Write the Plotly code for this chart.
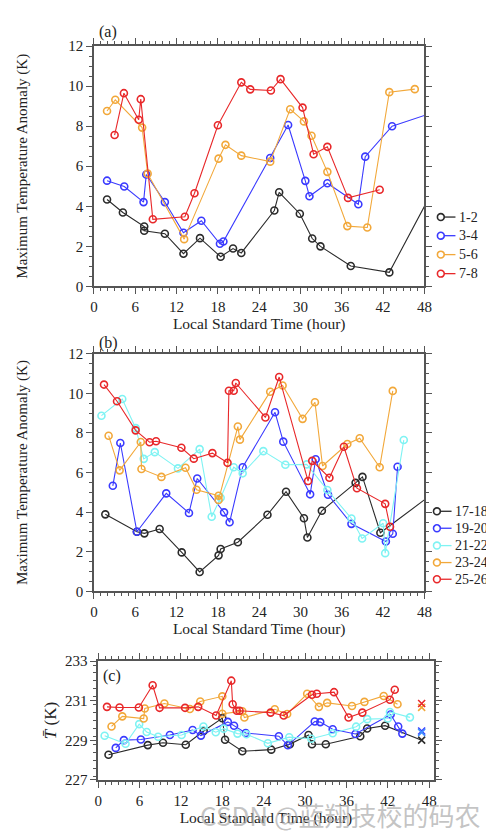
import plotly.graph_objects as go

# ---------------- Panel (a) data ----------------
a12_x = [1.9, 4.2, 7.3, 7.3, 10.3, 13.0, 15.4, 18.4, 20.2, 21.4, 26.2, 26.9, 29.9, 31.7, 32.9, 37.3, 42.9, 49.5]
a12_y = [4.34, 3.69, 2.99, 2.78, 2.63, 1.63, 2.41, 1.48, 1.89, 1.67, 3.79, 4.70, 3.63, 2.39, 2.00, 1.02, 0.70, 4.97]
a34_x = [1.9, 4.4, 7.2, 7.6, 10.3, 13.0, 15.6, 18.3, 18.8, 25.6, 28.2, 30.7, 31.3, 33.9, 38.4, 39.4, 43.3, 49.5]
a34_y = [5.28, 4.99, 4.21, 5.59, 4.21, 2.68, 3.28, 2.13, 2.24, 6.41, 8.06, 5.27, 4.50, 5.15, 4.10, 6.48, 8.00, 8.71]
a56_x = [1.9, 3.1, 7.0, 7.8, 13.1, 18.1, 19.1, 21.4, 25.6, 28.5, 30.5, 31.6, 33.9, 36.8, 39.7, 42.9, 46.6]
a56_y = [8.76, 9.32, 7.93, 5.63, 2.36, 6.38, 7.07, 6.53, 6.23, 8.85, 8.24, 7.52, 5.72, 3.01, 2.94, 9.70, 9.85]
a78_x = [3.0, 4.35, 6.5, 6.8, 8.55, 13.2, 14.6, 18.0, 21.4, 22.7, 25.7, 27.1, 30.3, 31.9, 33.9, 36.9, 41.5]
a78_y = [7.56, 9.65, 8.32, 9.35, 3.35, 3.48, 4.65, 8.05, 10.19, 9.84, 9.78, 10.35, 8.93, 6.60, 6.97, 4.42, 4.83]

# ---------------- Panel (b) data ----------------
b1718_x = [1.65, 6.24, 7.32, 9.54, 12.75, 15.35, 18.1, 18.4, 20.9, 25.2, 27.9, 30.5, 31.0, 33.1, 38.0, 39.0, 41.6, 49.5]
b1718_y = [3.89, 3.01, 2.93, 3.15, 1.97, 0.98, 1.82, 2.14, 2.48, 3.87, 5.03, 3.69, 2.72, 4.07, 5.48, 5.78, 2.96, 5.01]
b1920_x = [2.74, 3.83, 6.24, 10.5, 13.8, 15.0, 18.9, 19.7, 21.6, 26.3, 27.5, 31.4, 32.2, 34.0, 37.4, 42.4, 43.4, 44.1]
b1920_y = [5.33, 7.49, 3.01, 4.95, 3.96, 5.70, 3.99, 3.49, 6.27, 9.04, 7.56, 4.90, 6.67, 4.88, 3.41, 2.52, 2.91, 6.29]
b2122_x = [1.09, 4.11, 6.07, 7.23, 8.83, 12.2, 15.35, 17.1, 18.4, 20.3, 21.6, 24.6, 27.8, 30.9, 33.9, 37.4, 38.95, 42.0, 42.3, 45.0]
b2122_y = [8.87, 9.71, 8.24, 6.69, 7.03, 6.21, 7.18, 3.77, 4.73, 6.27, 5.96, 7.08, 6.39, 6.41, 5.12, 3.68, 2.67, 3.44, 1.93, 7.64]
b2324_x = [2.13, 3.73, 6.8, 6.9, 9.8, 13.3, 14.9, 18.1, 18.1, 20.9, 21.2, 25.6, 27.4, 30.3, 32.1, 33.2, 36.8, 38.6, 41.5, 43.4]
b2324_y = [7.86, 6.11, 7.54, 6.18, 5.78, 6.24, 5.13, 4.83, 4.62, 8.32, 7.66, 10.08, 10.39, 8.71, 9.55, 6.33, 7.44, 7.73, 6.27, 10.12]
b2526_x = [1.46, 3.35, 6.05, 8.08, 9.02, 12.7, 14.5, 17.2, 19.4, 19.6, 20.3, 20.6, 24.9, 26.9, 31.1, 31.7, 34.2, 36.3, 38.2, 42.3, 43.0]
b2526_y = [10.44, 9.60, 8.13, 7.53, 7.58, 7.25, 6.70, 6.98, 6.49, 10.13, 10.13, 10.52, 8.78, 10.82, 5.57, 6.59, 5.74, 7.30, 5.21, 4.42, 3.26]

# ---------------- Panel (c) data ----------------
c1718_x = [1.5, 7.2, 9.4, 12.7, 15.3, 18.0, 18.4, 20.9, 25.1, 27.8, 30.5, 31.0, 33.0, 38.0, 39.0, 41.6, 46.9]
c1718_y = [228.27, 228.76, 228.88, 228.78, 229.47, 230.12, 229.03, 228.45, 228.53, 228.81, 229.27, 228.80, 228.80, 229.21, 229.60, 229.74, 229.01]
c1920_x = [2.55, 3.73, 6.19, 10.4, 13.7, 14.9, 18.8, 19.7, 21.4, 26.2, 27.5, 31.4, 32.2, 34.0, 37.3, 42.4, 43.5, 44.1]
c1920_y = [228.62, 229.01, 229.04, 229.27, 229.52, 229.24, 229.93, 229.74, 229.37, 229.21, 228.75, 229.95, 229.92, 229.56, 229.32, 230.30, 229.70, 229.34]
c2122_x = [0.94, 3.97, 5.95, 7.04, 8.69, 12.1, 15.26, 17.05, 18.2, 20.2, 21.5, 24.6, 27.7, 30.9, 34.0, 37.4, 39.0, 42.0, 42.3, 45.2]
c2122_y = [229.23, 228.83, 229.82, 229.42, 229.18, 229.27, 229.70, 229.41, 229.59, 229.34, 229.31, 228.85, 229.16, 229.08, 229.36, 229.69, 230.07, 230.10, 230.43, 230.16]
c2324_x = [1.94, 3.5, 6.6, 6.76, 9.6, 13.3, 14.8, 18.0, 18.0, 20.9, 21.2, 25.6, 27.4, 30.3, 32.0, 33.2, 36.8, 38.6, 41.4, 43.4]
c2324_y = [229.70, 230.21, 230.10, 230.61, 230.86, 230.58, 230.96, 231.22, 230.34, 230.47, 230.15, 230.57, 230.33, 231.35, 230.69, 230.89, 230.73, 230.94, 231.24, 230.82]
c2526_x = [1.28, 3.1, 5.9, 7.9, 8.9, 12.6, 14.5, 17.1, 19.3, 19.5, 20.1, 20.5, 25.0, 26.9, 31.0, 31.7, 34.2, 36.3, 38.3, 42.3, 43.0]
c2526_y = [230.69, 230.66, 230.66, 231.78, 230.64, 230.64, 230.69, 230.25, 232.01, 230.82, 230.49, 230.49, 230.40, 230.25, 231.30, 231.35, 231.43, 230.15, 230.40, 231.05, 231.55]
c_mean_x = [46.9, 46.9, 46.9, 46.9]
c_mean_y = [229.47, 229.40, 230.66, 230.86]

labels_a = ["1-2", "3-4", "5-6", "7-8"]
labels_b = ["17-18", "19-20", "21-22", "23-24", "25-26"]
xticks = [0, 6, 12, 18, 24, 30, 36, 42, 48]

BLACK = "#2b2b2b"
BLUE = "#3a3aff"
CYAN = "#7ff3f3"
ORANGE = "#f2a83a"
RED = "#e8282a"
colors_a = [BLACK, BLUE, ORANGE, RED]
colors_b = [BLACK, BLUE, CYAN, ORANGE, RED]
FONT = "Liberation Serif"
AXC = "#555555"
TXT = "#222222"

fig = go.Figure()


def add(x, y, color, name, xa, ya, symbols=None):
    fig.add_trace(go.Scatter(
        x=x, y=y, mode="lines+markers", name=name,
        line=dict(color=color, width=1.1),
        marker=dict(symbol=symbols if symbols else "circle-open", size=7,
                    color=color, line=dict(width=1.6, color=color)),
        xaxis=xa, yaxis=ya, showlegend=False))


for xs, ys, c, n in zip([a12_x, a34_x, a56_x, a78_x], [a12_y, a34_y, a56_y, a78_y], colors_a, labels_a):
    add(xs, ys, c, n, "x", "y")
for xs, ys, c, n in zip([b1718_x, b1920_x, b2122_x, b2324_x, b2526_x],
                        [b1718_y, b1920_y, b2122_y, b2324_y, b2526_y], colors_b, labels_b):
    add(xs, ys, c, n, "x2", "y2")

sym_black = ["circle-open"] * (len(c1718_x) - 1) + ["x-thin-open"]
add(c1718_x, c1718_y, BLACK, labels_b[0], "x3", "y3", symbols=sym_black)
add(c1920_x, c1920_y, BLUE, labels_b[1], "x3", "y3")
add(c2122_x, c2122_y, CYAN, labels_b[2], "x3", "y3")
add(c2324_x, c2324_y, ORANGE, labels_b[3], "x3", "y3")
add(c2526_x, c2526_y, RED, labels_b[4], "x3", "y3")
mean_cols = [BLUE, "#3f8fff", ORANGE, RED]
fig.add_trace(go.Scatter(
    x=c_mean_x, y=c_mean_y, mode="markers", showlegend=False,
    marker=dict(symbol="x-thin-open", size=7, color=mean_cols,
                line=dict(width=1.6, color=mean_cols)),
    xaxis="x3", yaxis="y3"))

W, H = 494, 831


def px(v):
    return v / W


def py(v):
    return 1 - v / H


def xaxis(domain, anchor, rng, title):
    return dict(domain=domain, anchor=anchor, range=rng,
                tickvals=xticks, ticks="outside", ticklen=6, tickwidth=1.2,
                tickcolor=AXC, showline=True, linecolor=AXC, linewidth=1.5,
                mirror="allticks", showgrid=False, zeroline=False,
                tickfont=dict(family=FONT, size=15, color=TXT),
                minor=dict(dtick=1, tick0=0, ticks="outside", ticklen=3, tickcolor=AXC, showgrid=False),
                title=dict(text=title, font=dict(family=FONT, size=15.5, color=TXT), standoff=2))


def yaxis(domain, anchor, rng, dtick, minor, title, standoff, tsize=15):
    return dict(domain=domain, anchor=anchor, range=rng, dtick=dtick, tick0=rng[0],
                ticks="outside", ticklen=6, tickwidth=1.2,
                tickcolor=AXC, showline=True, linecolor=AXC, linewidth=1.5,
                mirror="allticks", showgrid=False, zeroline=False,
                tickfont=dict(family=FONT, size=15, color=TXT),
                minor=dict(dtick=minor, ticks="outside", ticklen=3, tickcolor=AXC, showgrid=False),
                title=dict(text=title, font=dict(family=FONT, size=tsize, color=TXT), standoff=standoff))


# manual legends (symbol: circle with a short line to its right, then label)
shapes = []
annotations = []


def legend_block(labels, colors, cx, ys, tx):
    for lab, col, yy in zip(labels, colors, ys):
        shapes.append(dict(type="line", xref="paper", yref="paper",
                           x0=px(cx + 3.5), x1=px(cx + 15), y0=py(yy), y1=py(yy),
                           line=dict(color=col, width=1.3)))
        shapes.append(dict(type="circle", xref="paper", yref="paper",
                           x0=px(cx - 3.5), x1=px(cx + 3.5), y0=py(yy + 3.5), y1=py(yy - 3.5),
                           line=dict(color=col, width=1.6)))
        annotations.append(dict(text=lab, x=px(tx), y=py(yy), xref="paper", yref="paper",
                                showarrow=False, xanchor="left", yanchor="middle",
                                font=dict(family=FONT, size=14, color=TXT)))


legend_block(labels_a, colors_a, 439.5, [205, 224, 243.3, 262.7], 456)
legend_block(labels_b, colors_b, 435.5, [505, 522.3, 540, 557.3, 574.3], 451.5)

annotations += [
    dict(text="(a)", x=px(87), y=py(16), xref="paper", yref="paper", showarrow=False,
         xanchor="left", yanchor="middle", font=dict(family=FONT, size=16, color=TXT)),
    dict(text="(b)", x=px(87), y=py(333), xref="paper", yref="paper", showarrow=False,
         xanchor="left", yanchor="middle", font=dict(family=FONT, size=16, color=TXT)),
    dict(text="(c)", x=px(91), y=py(673), xref="paper", yref="paper", showarrow=False,
         xanchor="left", yanchor="middle", font=dict(family=FONT, size=16, color=TXT)),
    dict(text="CSDN @蓝翔技校的码农", x=px(191), y=py(814), xref="paper", yref="paper",
         showarrow=False, xanchor="left", yanchor="middle",
         font=dict(family="Noto Sans CJK SC", size=26, color="rgba(170,170,170,0.7)")),
]

fig.update_layout(
    width=W, height=H, margin=dict(l=0, r=0, t=0, b=0),
    paper_bgcolor="white", plot_bgcolor="white",
    font=dict(family=FONT, color=TXT),
    showlegend=False,
    xaxis=xaxis([px(84), px(422.7)], "y", [0, 48], "Local Standard Time (hour)"),
    yaxis=yaxis([py(275.7), py(30.7)], "x", [0, 12], 2, 0.5, "Maximum Temperature Anomaly (K)", 37),
    xaxis2=xaxis([px(84), px(422.7)], "y2", [0, 48], "Local Standard Time (hour)"),
    yaxis2=yaxis([py(586.7), py(344.3)], "x2", [0, 12], 2, 0.5, "Maximum Temperature Anomaly (K)", 37),
    xaxis3=xaxis([px(88.3), px(432.3)], "y3", [0, 48.66], "Local Standard Time (hour)"),
    yaxis3=yaxis([py(779), py(657.7)], "x3", [227, 233], 2, 0.4, "<i>T̄</i> (K)", 4, tsize=17),
    shapes=shapes,
    annotations=annotations,
)

fig.write_html("out.html")
